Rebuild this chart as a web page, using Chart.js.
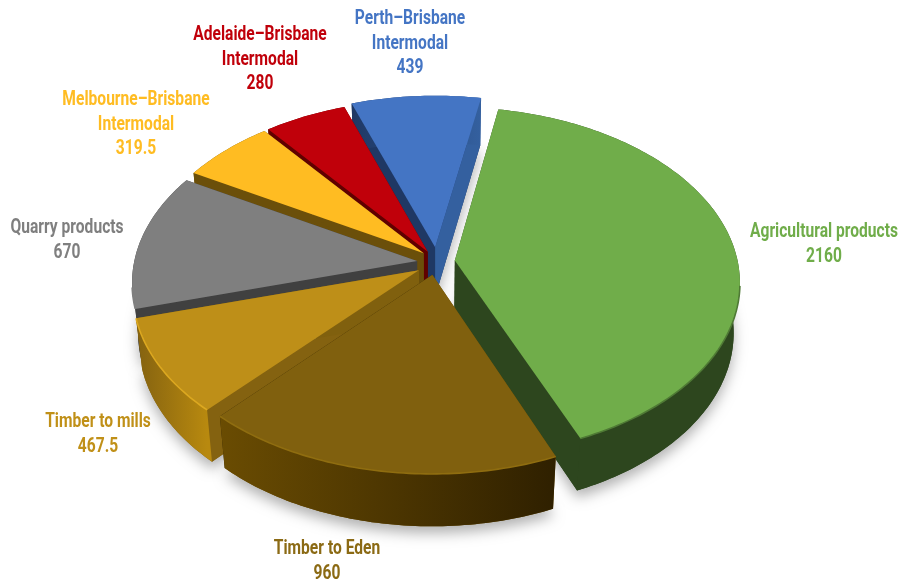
<!DOCTYPE html>
<html>
<head>
<meta charset="utf-8">
<title>Rail freight by commodity</title>
<script src="https://cdn.jsdelivr.net/npm/chart.js@4"></script>
<style>
  html, body { margin: 0; padding: 0; background: #fff; }
  canvas { display: block; }
</style>
</head>
<body>
<canvas id="pieChart" width="899" height="582"></canvas>
<script>
// chart data
var categories = ['Agricultural products', 'Timber to Eden', 'Timber to mills', 'Quarry products',
  'Melbourne\u2013Brisbane Intermodal', 'Adelaide\u2013Brisbane Intermodal', 'Perth\u2013Brisbane Intermodal'];
var tonnes = [2160, 960, 467.5, 670, 319.5, 280, 439];

// slice styling
var sliceColors = ['#70ad4a', '#80600e', '#be8f18', '#7f7f7f', '#ffbc22', '#c0000a', '#4475c4'];
var textColors = ['#70ad4a', '#8b6a14', '#c09018', '#7f7f7f', '#ffbc22', '#c0000a', '#4475c4'];
var rimLeft = ['#2d461e', '#6a4c02', '#846210', '#404040', '#6b4f0a', '#600000', '#1f3864'];
var rimRight = ['#2d461e', '#2f2000', '#b8890f', '#404040', '#6b4f0a', '#600000', '#34609f'];
var cutStart = ['#2d461e', '#6a4c02', '#846210', '#404040', '#6b4f0a', '#600000', '#1f3864'];
var cutEnd = ['#2d461e', '#2f2000', '#80600e', '#404040', '#6b4f0a', '#600000', '#34609f'];
var rimEdge = ['#4f7a35', '#8f6d10', '#dca820', '#7f7f7f', '#ffbc22', '#c0000a', '#4475c4'];
var explode = [25, 21, 13, 13, 13, 11, 18];
var nudgeX = [-1, 5, -1, -1, 2.5, 2, 5.5];
var nudgeY = [2, 2, 6, 2, -1.5, -2.5, -2];

// back to front
var paintOrder = [6, 5, 4, 3, 0, 2, 1];

// label layout: centre of the first line, and the wrapped text
var labelLines = [['Agricultural products'], ['Timber to Eden'], ['Timber to mills'], ['Quarry products'],
  ['Melbourne\u2013Brisbane', 'Intermodal'], ['Adelaide\u2013Brisbane', 'Intermodal'], ['Perth\u2013Brisbane', 'Intermodal']];
var labelX = [824, 327, 98, 67, 136, 260, 410];
var labelY = [232, 549, 422, 228, 100, 35, 19];
var lineGap = 24.6;

// tilted camera for the pie plane
var cam = { cx: 431, cy: 260, p: 0.12, k: 0.608, depth: 51, q: 0.0004 };

function project(u, v, z, R) {
  var w = 1 - cam.p * v / R + cam.q * z;
  return { x: cam.cx + u / w, y: cam.cy + (cam.k * v + z) / w };
}

function sliceOutline(arc, i, z) {
  var R = arc.outerRadius;
  var mid = (arc.startAngle + arc.endAngle) / 2;
  var ax = Math.cos(mid) * explode[i], ay = Math.sin(mid) * explode[i];
  var moved = function (p) { return { x: p.x + nudgeX[i], y: p.y + nudgeY[i] }; };
  var pts = [];
  var steps = Math.ceil((arc.endAngle - arc.startAngle) / (Math.PI / 180));
  for (var n = 0; n <= steps; n++) {
    var a = arc.startAngle + (arc.endAngle - arc.startAngle) * n / steps;
    pts.push(moved(project(ax + R * Math.cos(a), ay + R * Math.sin(a), z, R)));
  }
  return { apex: moved(project(ax, ay, z, R)), rim: pts };
}

function tracePoly(ctx, pts) {
  ctx.beginPath();
  pts.forEach(function (p, i) {
    if (i === 0) ctx.moveTo(p.x, p.y); else ctx.lineTo(p.x, p.y);
  });
  ctx.closePath();
}

function drawSlice(ctx, arc, i) {
  var top = sliceOutline(arc, i, 0);
  var bot = sliceOutline(arc, i, cam.depth);
  var topPoly = [top.apex].concat(top.rim);
  var botPoly = [bot.apex].concat(bot.rim);
  var last = top.rim.length - 1;

  // floor of the slice, carries the soft drop shadow
  ctx.save();
  ctx.shadowColor = 'rgba(0,0,0,0.3)';
  ctx.shadowBlur = 13;
  ctx.shadowOffsetY = 7;
  ctx.fillStyle = cutStart[i];
  tracePoly(ctx, botPoly);
  ctx.fill();
  ctx.restore();

  // two cut faces
  ctx.fillStyle = cutStart[i];
  tracePoly(ctx, [top.apex, top.rim[0], bot.rim[0], bot.apex]);
  ctx.fill();
  ctx.fillStyle = cutEnd[i];
  tracePoly(ctx, [top.apex, top.rim[last], bot.rim[last], bot.apex]);
  ctx.fill();

  // outer wall
  var xs = top.rim.map(function (p) { return p.x; });
  var grad = ctx.createLinearGradient(Math.min.apply(null, xs), 0, Math.max.apply(null, xs), 0);
  grad.addColorStop(0, rimLeft[i]);
  grad.addColorStop(1, rimRight[i]);
  ctx.fillStyle = grad;
  tracePoly(ctx, top.rim.concat(bot.rim.slice().reverse()));
  ctx.fill();

  // top face
  ctx.fillStyle = sliceColors[i];
  tracePoly(ctx, topPoly);
  ctx.fill();

  // bevel along the front of the rim only
  ctx.strokeStyle = rimEdge[i];
  ctx.lineWidth = 1.6;
  ctx.beginPath();
  var pen = false;
  top.rim.forEach(function (p) {
    if (p.y <= top.apex.y + 25) { pen = false; return; }
    if (pen) ctx.lineTo(p.x, p.y); else ctx.moveTo(p.x, p.y);
    pen = true;
  });
  ctx.stroke();
}

var pie3d = {
  id: 'pie3d',
  beforeDatasetsDraw: function (chart) {
    var ctx = chart.ctx;
    var arcs = chart.getDatasetMeta(0).data;
    paintOrder.forEach(function (i) { drawSlice(ctx, arcs[i], i); });
    return false;
  },
  afterDraw: function (chart) {
    var ctx = chart.ctx;
    ctx.save();
    ctx.font = 'bold 20px Roboto, "DejaVu Sans Condensed", sans-serif';
    ctx.textAlign = 'center';
    ctx.textBaseline = 'middle';
    // the labels use a narrow cut, squeeze to the width of the longest one
    var squeeze = 148 / ctx.measureText(labelLines[0][0]).width;
    categories.forEach(function (c, i) {
      ctx.fillStyle = textColors[i];
      var lines = labelLines[i].concat(String(tonnes[i]));
      lines.forEach(function (t, n) {
        ctx.save();
        ctx.translate(labelX[i], labelY[i] + n * lineGap);
        ctx.scale(squeeze, 1);
        ctx.fillText(t, 0, 0);
        ctx.restore();
      });
    });
    ctx.restore();
  }
};

var pieChart = new Chart(document.getElementById('pieChart'), {
  type: 'pie',
  data: {
    labels: categories,
    datasets: [{
      data: tonnes,
      backgroundColor: sliceColors,
      offset: explode,
      borderWidth: 0
    }]
  },
  options: {
    responsive: false,
    animation: false,
    rotation: 10.5,
    radius: 283,
    plugins: { legend: { display: false }, tooltip: { enabled: false } }
  },
  plugins: [pie3d]
});
</script>
</body>
</html>
